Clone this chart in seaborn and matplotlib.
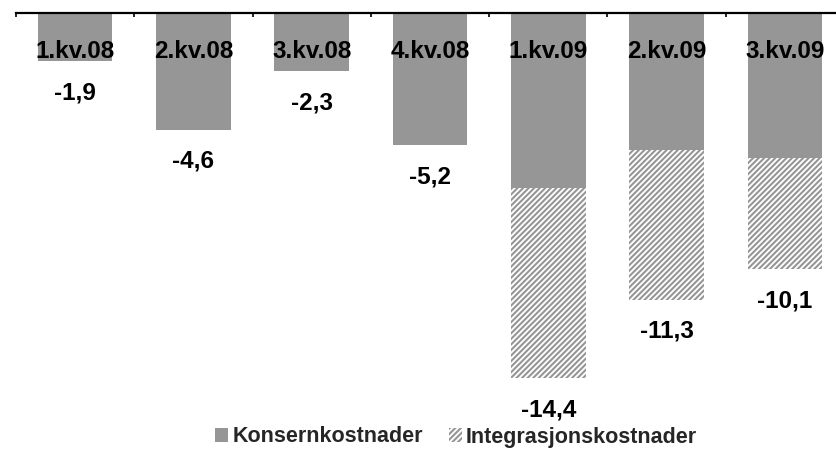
import numpy as np
import pandas as pd
import matplotlib
matplotlib.use("Agg")
import matplotlib.pyplot as plt
import seaborn as sns
from matplotlib.patches import Patch

quarters = ["1.kv.08", "2.kv.08", "3.kv.08", "4.kv.08", "1.kv.09", "2.kv.09", "3.kv.09"]
konsern = [-1.9, -4.6, -2.3, -5.2, -6.9, -5.4, -5.7]
integrasjon = [0.0, 0.0, 0.0, 0.0, -7.5, -5.9, -4.4]
totals = [-1.9, -4.6, -2.3, -5.2, -14.4, -11.3, -10.1]

GRAY = "#969696"
HATCH = "//////"

sns.set_theme(style="white")
plt.rcParams["font.family"] = ["Liberation Sans", "DejaVu Sans"]
plt.rcParams["hatch.linewidth"] = 1.5

df = pd.DataFrame({"kvartal": quarters, "konsern": konsern,
                   "total": np.array(konsern) + np.array(integrasjon)})

fig = plt.figure(figsize=(8.37, 4.53), dpi=100)
ax = fig.add_axes([16 / 837, 1 - 405 / 453, 828 / 837, 392 / 453])

# hatched layer = total, solid layer on top = konsern
sns.barplot(data=df, x="kvartal", y="total", color="white", width=0.63,
            linewidth=0, ax=ax)
for p in ax.patches:
    p.set_hatch(HATCH)
    p.set_facecolor("white")
    p.set_edgecolor(GRAY)
    p.set_linewidth(0)
sns.barplot(data=df, x="kvartal", y="konsern", color=GRAY, saturation=1,
            width=0.63, linewidth=0, ax=ax)

ax.set_xlim(-0.5, 6.5)
ax.set_ylim(-15.45, 0)

for i, (q, t) in enumerate(zip(quarters, totals)):
    ax.text(i, -1.5, q, ha="center", va="center", fontsize=17.5,
            fontweight="bold", color="black")
    ax.text(i, t - 1.25, f"{t:.1f}".replace(".", ","), ha="center",
            va="center", fontsize=17.5, fontweight="bold", color="black")

for s in ["left", "right", "bottom"]:
    ax.spines[s].set_visible(False)
ax.spines["top"].set_color("black")
ax.spines["top"].set_linewidth(1.6)
ax.set_xticks(np.arange(-0.5, 7, 1))
ax.set_xticklabels([])
ax.xaxis.set_ticks_position("top")
ax.tick_params(axis="x", direction="in", length=3, width=1.2, color="black")
ax.set_yticks([])
ax.set_xlabel("")
ax.set_ylabel("")

handles = [Patch(facecolor=GRAY, edgecolor=GRAY, linewidth=0, label="Konsernkostnader"),
           Patch(facecolor="white", edgecolor=GRAY, linewidth=0, hatch=HATCH,
                 label="Integrasjonskostnader")]
fig.legend(handles=handles, loc="center", bbox_to_anchor=(456 / 837, 1 - 437 / 453),
           ncol=2, frameon=False, handlelength=0.6, handleheight=0.6,
           handletextpad=0.2, columnspacing=1.2,
           prop={"size": 15.5, "weight": "bold"})

fig.savefig("out.png", dpi=100)
